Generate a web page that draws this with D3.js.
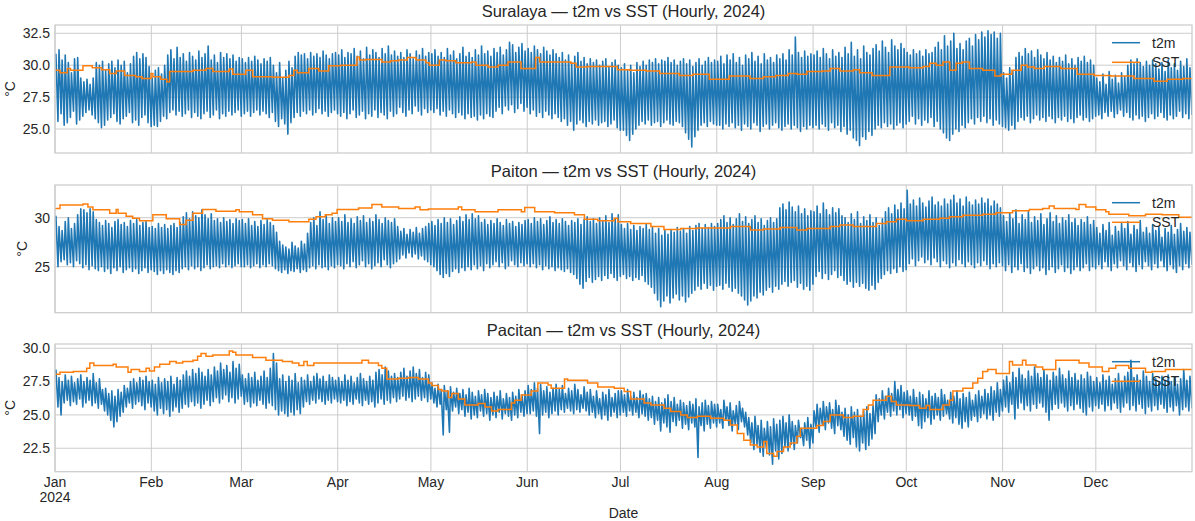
<!DOCTYPE html>
<html>
<head>
<meta charset="utf-8">
<script src="https://cdn.jsdelivr.net/npm/d3@7"></script>
<style>
  body { margin: 0; background: #ffffff; }
  svg text { font-family: "Liberation Sans", Arial, Helvetica, sans-serif; fill: #262626; }
</style>
</head>
<body>
<svg id="chart" width="1195" height="521"></svg>
<script>
// ---------------------------------------------------------------------------
// Data: daily t2m extremes (°C) for 2024 (366 days, one row per month) and
// SST step changes as [day-of-year index, °C].
// ---------------------------------------------------------------------------
const monthLabels = ["Jan", "Feb", "Mar", "Apr", "May", "Jun", "Jul", "Aug", "Sep", "Oct", "Nov", "Dec"];
const yearLabel = "2024";
const stations = ["Suralaya", "Paiton", "Pacitan"];
const seriesNames = ["t2m", "SST"];

const suralayaT2mMax = [
  30.9,31.2,30.4,30.8,30.2,29.4,30.5,30.6,29.0,28.7,28.9,28.5,29.0,30.2,30.0,30.3,29.6,30.1,30.3,29.8,30.4,30.0,30.3,29.4,30.1,30.7,31.0,30.5,30.9,30.6,29.9,
  29.0,29.6,29.8,29.3,30.0,30.8,31.2,30.5,31.4,30.6,30.9,30.3,31.0,30.7,30.4,31.1,30.6,30.9,31.5,30.4,30.8,30.2,31.0,30.6,30.9,30.5,30.8,30.3,30.6,
  30.5,30.2,30.6,30.3,30.7,30.4,30.1,30.5,30.3,30.6,30.0,29.4,30.2,29.0,29.6,30.3,29.8,30.7,31.0,30.8,30.9,30.5,31.0,30.7,30.9,30.6,31.1,30.8,30.5,30.9,31.0,
  30.8,31.2,30.6,31.0,30.9,31.3,30.7,31.1,30.5,31.4,30.8,31.2,31.0,30.6,31.3,30.9,31.5,30.8,31.1,30.7,31.0,30.6,31.2,30.9,30.5,31.1,30.8,31.3,30.7,31.0,
  30.9,31.2,30.7,31.0,30.6,31.3,30.8,31.1,30.5,30.9,31.4,30.7,31.0,30.6,31.2,30.8,31.5,30.9,31.1,30.7,31.3,31.0,31.4,30.8,31.2,31.8,31.6,31.0,31.4,31.7,31.1,
  31.3,31.0,31.5,31.2,30.9,31.4,31.1,30.8,31.2,30.9,30.6,31.0,30.4,30.8,30.2,30.7,31.0,30.3,30.6,30.1,30.5,30.2,30.4,30.0,30.3,30.5,29.9,30.2,30.4,30.0,
  29.8,30.1,29.6,30.0,29.4,30.2,29.9,30.3,30.0,30.4,30.2,30.5,30.1,30.4,30.3,30.6,30.2,30.4,30.0,30.3,30.5,30.1,30.4,29.9,30.2,30.5,30.0,30.3,30.6,30.2,30.4,
  30.3,30.7,30.1,30.8,30.4,30.9,30.2,30.6,30.0,30.8,30.5,31.0,30.3,30.7,30.1,30.9,30.4,30.6,30.2,30.8,30.5,30.9,30.4,31.2,30.8,32.2,31.0,30.6,31.1,30.7,30.9,
  30.8,31.1,30.6,31.3,30.9,30.5,31.2,30.7,31.0,30.6,31.4,30.9,31.8,30.7,31.2,30.5,31.5,31.0,30.8,31.3,31.6,31.1,31.9,31.4,31.0,32.0,31.5,31.2,31.7,31.3,
  31.0,30.8,31.2,30.9,31.1,30.7,31.2,30.9,31.0,31.4,31.8,31.2,32.3,31.5,31.9,32.5,31.3,31.7,31.2,31.9,32.1,31.5,32.4,32.0,32.6,32.2,32.7,32.4,32.6,32.1,32.5,
  29.4,29.0,29.8,29.5,30.6,31.0,30.7,31.3,30.9,31.1,30.6,31.2,30.8,30.5,31.0,30.4,30.7,30.2,30.6,30.3,30.8,30.1,30.5,30.0,30.6,30.3,30.7,30.2,30.4,30.0,
  29.0,28.7,29.3,28.5,29.5,28.9,29.2,28.6,29.4,29.1,30.0,30.4,30.1,30.5,30.2,29.9,30.3,30.0,30.4,30.1,29.7,30.2,29.5,30.4,29.8,30.1,29.6,30.3,29.9,30.5,29.8
];
const suralayaT2mMin = [
  25.6,26.2,25.3,25.5,25.9,26.4,25.4,25.7,26.0,26.3,26.5,26.1,25.8,25.5,25.1,25.3,25.7,25.9,26.2,25.6,25.4,25.8,26.0,26.3,25.5,25.7,25.3,25.9,26.1,25.5,25.2,
  25.3,25.2,25.6,26.0,25.8,26.3,26.5,26.1,26.4,26.0,26.2,26.5,25.9,26.3,26.0,25.8,26.2,26.4,25.9,26.1,26.5,25.8,26.2,26.0,26.4,26.1,26.3,26.5,26.0,
  26.2,26.4,26.0,26.3,26.5,26.1,26.4,26.2,25.9,26.3,25.6,25.2,25.8,25.4,24.6,25.5,25.9,26.3,26.0,26.4,26.2,26.5,26.1,26.3,26.6,26.2,26.4,26.0,26.3,26.5,26.2,
  26.0,26.3,25.8,26.2,26.5,25.9,26.1,26.4,25.8,26.2,26.0,26.5,25.9,26.3,26.1,25.8,26.4,26.0,26.2,26.7,26.3,26.0,26.5,26.2,26.8,26.4,26.1,26.6,26.3,26.5,
  26.3,26.6,26.1,26.4,26.0,26.5,26.2,25.9,26.3,26.1,25.8,26.2,25.9,26.0,25.7,26.1,25.8,26.2,26.0,25.9,26.4,26.7,26.2,26.8,26.5,26.9,26.3,26.6,27.0,26.4,26.7,
  26.2,26.5,26.0,26.3,25.9,26.4,26.1,25.8,26.2,25.9,25.6,25.8,25.3,25.6,24.9,25.4,25.7,25.5,25.2,25.6,25.4,25.7,25.3,25.5,25.6,25.2,25.4,25.7,25.1,24.9,
  24.9,24.5,24.1,24.6,25.0,25.3,25.6,25.4,25.7,25.3,25.5,25.6,25.2,25.5,25.7,25.4,25.3,25.6,25.5,25.2,24.7,24.2,23.6,24.4,24.9,25.3,25.5,25.2,25.6,25.4,25.3,
  25.3,25.0,25.4,25.2,25.5,25.1,25.3,24.9,25.4,25.2,25.0,25.5,25.3,24.8,25.2,25.4,25.0,25.3,25.5,25.1,24.9,25.2,25.4,25.0,25.3,25.1,24.8,25.2,25.0,25.3,25.1,
  25.3,25.0,25.4,25.2,24.9,25.5,25.1,25.3,24.8,25.2,24.6,24.9,24.3,24.1,23.7,24.4,24.2,24.8,24.5,25.0,25.3,25.1,25.5,25.2,25.4,25.0,25.3,25.5,25.1,25.4,
  25.6,26.0,25.4,25.8,25.3,25.7,25.5,25.9,25.2,25.6,25.0,24.7,24.3,24.1,24.6,25.0,24.8,25.3,25.1,25.5,25.8,25.4,25.9,25.6,26.0,25.5,25.8,25.3,25.7,25.4,25.2,
  25.1,24.9,25.3,25.0,25.6,25.9,25.7,26.0,25.5,25.8,26.1,25.7,25.9,25.6,26.0,25.8,25.5,25.9,25.7,26.0,25.6,25.8,25.5,25.9,26.1,25.7,25.9,25.6,25.8,26.0,
  26.1,25.8,26.3,26.0,26.4,25.9,26.2,26.5,26.0,26.3,25.9,25.7,26.1,25.8,26.0,25.6,25.9,26.2,25.8,26.0,26.3,25.9,25.7,26.1,25.8,26.0,26.4,25.9,26.2,25.8,26.1
];
const suralayaSst = [
  [0,29.6],[1.6,29.4],[4,29.75],[5,29.6],[9,29.95],[12,29.8],[15,29.65],[17.6,29.35],[19.7,29.55],[22.4,29.2],
  [26,29.1],[28,28.95],[30.9,29.35],[31.5,29.1],[34,28.9],[36,28.7],[36.9,29.5],[44.4,29.6],[48.6,29.75],[50.8,29.5],
  [56.1,29.7],[57.2,29.3],[61.4,29.6],[63.6,29.1],[70,29.05],[75.3,29.2],[76.9,29.6],[78,29.4],[81.7,29.75],[84.9,29.55],
  [88.1,29.95],[92,30.0],[97.2,30.65],[98,30.4],[100,30.45],[105.2,30.25],[108,30.35],[110.6,30.4],[113.4,30.6],[116.2,30.4],
  [119.4,30.2],[120.5,30.0],[123.7,30.4],[125.8,30.35],[129,30.2],[134,30.25],[135.5,30.0],[139.4,29.85],[142.6,30.0],[145.8,30.25],
  [150,29.75],[154.7,30.6],[156,30.25],[166,30.15],[167.7,29.85],[171.5,29.9],[181,29.65],[185,29.6],[190.3,29.55],[194.6,29.35],
  [201,29.2],[205.3,29.3],[210.6,28.9],[217,29.15],[223.7,28.95],[228,29.1],[232,29.2],[236,29.35],[238.8,29.3],[242,29.5],
  [247,29.55],[249.5,29.75],[252.6,29.55],[257,29.65],[259,29.4],[263,29.2],[268.7,29.85],[275,29.8],[279.4,29.9],[281.5,30.15],
  [283.6,30.0],[285.8,30.25],[288,29.6],[290,30.15],[292,30.25],[294.3,29.75],[298.6,29.6],[302.5,29.15],[304.5,29.3],[308,29.6],
  [311,30.0],[313,29.85],[315.2,29.75],[318.4,29.9],[323.7,29.75],[329,29.3],[334.5,29.2],[339.8,29.15],[347.3,28.95],[353.7,28.75],
  [358,28.9],[363,28.95]
];

const paitonT2mMax = [
  30.2,29.1,28.7,29.6,30.0,28.9,29.4,30.3,30.9,30.8,30.5,30.9,30.6,29.8,29.5,29.2,29.7,29.4,29.0,29.6,29.8,29.3,29.5,29.1,29.7,29.4,29.8,29.2,29.5,29.6,29.0,
  29.1,28.9,29.4,29.0,29.3,28.9,29.2,29.4,29.0,29.5,30.1,30.5,29.9,30.6,30.2,30.0,30.8,30.3,29.9,30.4,29.7,29.9,29.5,30.0,29.6,29.8,29.4,29.9,29.7,
  29.8,29.4,29.9,29.2,29.6,29.1,29.7,29.3,29.8,29.5,29.2,28.5,27.6,27.2,27.0,26.8,27.5,27.1,26.9,27.6,27.3,28.4,29.5,30.0,29.2,30.6,29.8,30.2,29.4,30.0,29.6,
  30.0,29.6,30.3,29.5,29.9,29.4,30.1,29.7,30.2,29.5,29.9,29.6,30.3,29.8,29.4,30.0,29.7,29.5,29.9,29.1,28.6,28.9,28.3,28.8,28.5,29.0,28.4,28.9,29.1,29.4,
  29.6,29.2,29.8,29.4,30.0,29.5,29.9,29.3,29.7,30.1,29.6,30.3,29.8,30.4,29.9,30.2,29.5,29.8,29.3,29.7,29.4,29.9,29.5,29.2,29.8,29.4,29.6,29.1,29.5,29.3,29.7,
  29.8,29.4,30.0,29.6,29.9,29.3,29.7,30.1,29.5,29.8,29.4,29.9,29.6,29.2,29.7,29.5,29.9,29.3,29.8,30.1,29.6,29.9,29.4,30.0,29.7,30.2,29.5,30.4,29.9,30.3,
  29.3,28.9,29.4,28.8,29.2,28.7,29.1,28.9,29.3,28.8,29.0,28.4,28.9,28.2,28.7,28.3,28.8,28.5,29.0,28.6,28.9,28.4,29.1,28.7,29.2,29.4,28.9,29.3,29.0,29.4,29.1,
  29.4,29.8,30.2,29.5,30.0,29.3,29.9,30.4,29.6,30.1,29.4,29.8,30.2,29.5,29.9,29.2,29.7,30.0,29.5,29.9,31.0,31.4,30.8,31.6,31.1,30.6,31.2,30.4,30.9,30.2,30.7,
  30.6,31.2,30.4,31.5,30.8,30.3,31.0,30.5,30.9,30.2,30.0,29.5,30.4,29.8,30.6,29.4,30.1,29.7,30.3,29.5,30.0,29.2,29.9,30.6,31.0,30.4,31.3,30.8,31.5,30.9,
  32.8,31.4,31.8,31.2,32.0,31.5,31.1,31.7,32.1,31.3,31.6,31.2,31.9,31.4,31.8,32.3,31.5,31.9,31.2,32.1,31.6,31.3,31.8,31.4,32.0,31.5,31.9,31.2,31.7,31.4,31.0,
  30.2,29.6,30.5,29.9,30.8,29.4,30.3,29.8,30.6,29.5,30.1,29.7,30.4,29.3,29.9,30.5,29.6,30.2,29.4,30.0,29.7,30.3,29.5,29.9,29.2,29.8,29.5,30.1,29.3,29.7,
  29.0,28.4,29.3,28.7,29.5,28.2,29.1,28.6,29.4,28.9,29.6,28.3,29.2,28.8,29.7,28.5,29.0,28.4,29.3,28.7,29.1,28.0,28.9,28.5,29.2,28.3,28.8,29.4,28.6,29.0,28.5
];
const paitonT2mMin = [
  25.0,25.5,25.7,25.2,25.4,25.0,25.6,25.3,24.9,25.2,24.7,25.1,24.8,24.6,25.0,24.5,24.8,24.3,24.9,24.6,25.0,24.4,24.7,24.9,24.5,24.8,24.3,24.6,24.9,24.4,24.7,
  24.5,24.2,24.6,24.3,24.7,24.4,24.2,24.6,24.4,24.8,25.0,24.7,25.1,24.8,25.0,24.6,24.9,25.2,24.8,25.0,25.1,24.9,25.3,25.0,25.2,24.9,25.1,25.3,25.0,
  25.0,25.2,24.9,25.1,25.3,24.9,25.2,25.0,25.3,25.1,24.8,24.6,24.4,24.7,24.3,24.6,24.5,24.8,24.4,24.7,24.5,24.9,25.1,24.8,25.2,24.9,25.0,24.7,25.1,24.9,25.2,
  25.1,24.8,25.3,25.0,25.5,24.9,25.2,25.6,25.0,25.3,24.8,25.1,25.4,25.0,25.7,25.2,24.9,25.3,25.5,25.8,26.2,25.9,26.4,26.0,26.3,25.8,26.1,25.7,25.5,25.2,
  25.0,24.6,24.2,23.9,24.3,24.0,24.5,24.8,24.4,24.9,24.6,25.0,24.7,25.2,24.8,25.1,24.6,25.3,24.9,25.2,25.5,25.0,25.4,24.8,25.1,25.6,25.2,25.0,25.4,25.1,25.3,
  25.0,25.3,24.9,25.2,24.7,25.1,24.8,25.0,24.6,24.9,24.7,24.5,24.8,24.4,24.2,23.8,23.2,22.8,23.5,23.9,23.4,23.7,24.0,23.6,24.1,23.8,24.3,23.9,23.6,24.0,
  24.2,23.8,24.0,23.6,23.9,23.7,24.1,23.5,23.2,22.9,22.3,21.6,20.9,21.5,22.0,21.3,21.8,22.2,21.6,22.0,21.4,21.9,22.3,22.6,23.0,22.7,23.3,22.8,23.1,22.6,23.0,
  23.1,22.7,23.3,22.9,22.5,22.8,22.3,22.0,21.6,21.1,21.5,22.0,21.8,22.4,22.1,22.6,22.9,22.4,23.0,22.7,23.2,23.5,23.0,23.4,23.6,22.9,23.3,22.7,23.0,22.6,23.2,
  24.0,24.5,23.8,24.3,23.7,24.2,24.6,23.9,24.1,23.6,23.2,23.5,22.9,23.4,23.0,23.3,22.8,22.6,23.1,22.7,23.4,23.8,24.2,24.6,24.3,24.8,24.4,25.0,24.5,24.7,
  25.3,25.8,25.1,25.6,26.0,25.4,25.7,25.2,25.9,25.5,25.0,25.6,25.3,24.9,25.4,25.1,25.7,25.3,25.0,25.5,25.2,24.9,25.4,25.1,25.6,25.2,24.8,25.3,25.0,25.4,25.1,
  24.6,25.2,24.4,25.0,24.7,25.3,24.5,24.9,24.3,24.8,25.1,24.6,24.9,24.2,24.7,25.0,24.4,24.8,25.2,24.5,24.9,24.3,24.7,25.0,24.6,24.9,25.3,24.6,25.0,24.8,
  25.2,24.8,25.5,25.0,24.6,25.3,24.9,25.6,25.1,24.7,25.4,25.0,24.5,25.2,24.8,25.5,25.1,24.7,25.3,24.9,25.6,25.0,24.6,25.2,24.8,24.4,25.1,24.7,25.3,24.9,25.2
];
const paitonSst = [
  [0,30.95],[1.6,31.3],[9,31.4],[10.6,31.1],[12.2,30.8],[17.6,30.45],[19.7,30.85],[20.3,30.45],[22.9,30.15],[25,29.95],
  [27.2,29.7],[31.5,30.3],[35.8,29.9],[40.1,29.3],[42.2,29.75],[44.4,30.45],[47.5,30.85],[51.8,30.65],[58.2,30.8],[59.3,30.6],
  [63.6,30.3],[66.8,29.9],[70,29.75],[75.3,29.6],[81.7,29.85],[84,30.1],[87,30.3],[89.2,30.45],[90.8,30.85],[97.7,31.0],
  [102,31.35],[105.2,31.1],[110.6,30.95],[115.9,31.1],[117.5,30.8],[120.2,30.9],[129.8,31.1],[130.9,30.8],[135.2,30.6],[142.6,30.8],
  [150.1,30.6],[151.2,31.05],[154.4,30.6],[160.8,30.5],[167.2,30.3],[170.4,29.85],[174.7,29.7],[180,29.95],[181.1,29.6],[185.3,29.4],
  [191.8,29.1],[196,28.8],[201.4,28.9],[206.7,28.95],[217.4,29.1],[223.8,28.75],[228,28.85],[233.4,29.0],[238.8,28.75],[242,28.9],
  [249.5,29.1],[252.6,29.25],[256.9,29.1],[264.4,29.4],[267.6,29.6],[270.8,29.85],[274,29.7],[279.4,29.85],[284.7,29.95],[287.9,30.1],
  [292.2,30.25],[298.6,30.35],[302.9,30.5],[308.2,30.7],[313.6,30.85],[317.9,30.95],[320,31.2],[321.6,30.95],[328.6,30.85],[329.6,31.35],
  [331.8,31.1],[335,30.8],[338.2,30.6],[339.2,30.35],[345.6,30.2],[351,30.35],[356.3,30.3],[361.7,30.05]
];

const pacitanT2mMax = [
  28.4,27.8,27.5,28.0,27.6,27.9,27.4,27.7,28.0,27.5,27.8,27.6,28.1,27.4,27.7,26.9,27.0,26.6,26.8,26.4,26.9,26.7,27.2,27.0,27.5,27.7,27.4,27.8,27.6,27.9,27.5,
  27.6,27.3,27.8,27.4,27.7,27.5,27.9,27.3,27.8,27.6,28.0,28.3,27.9,28.4,28.1,28.5,28.2,27.9,28.4,28.0,28.6,28.3,28.9,28.4,28.7,28.2,29.0,28.5,28.8,
  28.0,27.7,28.1,27.8,28.2,27.6,27.9,28.3,27.8,28.5,29.6,28.9,27.7,28.0,27.5,27.9,27.6,28.1,27.4,27.8,27.6,28.0,27.5,27.9,28.1,27.7,27.9,27.5,28.0,27.8,27.6,
  27.8,27.5,28.0,27.6,27.9,27.4,27.8,28.1,27.7,27.5,27.9,27.6,28.2,28.4,28.0,28.6,28.3,27.9,28.1,27.8,28.2,28.5,27.9,28.3,28.6,28.1,28.4,27.8,28.2,28.0,
  27.4,27.0,27.3,26.9,27.2,26.8,27.1,26.7,27.0,26.6,26.9,26.5,27.0,26.7,26.4,26.8,26.5,26.9,26.6,26.3,26.7,26.4,26.8,26.2,26.6,26.3,26.7,26.4,26.9,26.5,26.8,
  27.2,26.9,27.4,27.0,27.3,26.8,27.1,26.7,27.0,27.3,26.9,27.2,26.6,27.0,26.8,27.3,26.9,26.5,27.1,26.7,26.9,26.4,26.8,26.2,26.7,26.5,26.9,26.3,26.6,26.8,
  26.8,26.5,26.9,26.4,26.7,26.3,26.8,26.5,26.6,26.2,26.4,26.0,26.3,25.9,26.2,26.5,26.0,26.3,25.8,26.1,25.9,25.7,26.0,25.8,26.2,25.6,25.9,26.1,25.7,26.0,25.8,
  25.8,25.4,26.1,25.6,25.9,25.3,25.7,26.0,25.5,25.2,24.8,24.4,24.9,24.2,24.6,24.0,24.5,24.1,24.7,24.3,24.6,24.9,24.4,25.0,24.5,24.2,24.6,24.0,24.4,24.8,24.3,
  25.3,25.8,25.5,26.0,25.6,25.9,25.4,26.1,25.7,25.2,25.5,25.0,25.6,25.2,25.4,24.9,25.3,25.6,25.1,25.7,26.5,26.2,26.8,26.4,27.0,26.6,27.5,26.9,27.2,26.7,
  26.8,26.4,26.9,26.3,26.7,26.5,26.2,26.8,26.4,26.6,26.3,26.9,26.5,26.1,26.7,26.4,26.8,26.2,26.6,26.3,26.7,26.1,26.5,26.8,26.4,26.9,26.6,27.1,26.8,27.4,26.9,
  27.6,27.9,27.4,28.2,27.8,28.5,28.0,27.7,28.3,27.9,28.6,28.1,27.8,28.4,28.0,27.6,28.2,27.9,28.5,28.0,27.7,28.3,27.8,28.1,27.6,28.0,27.7,28.2,27.9,27.5,
  27.8,27.4,28.0,27.6,27.9,27.3,27.7,28.1,27.5,27.9,28.2,29.1,27.8,28.0,27.6,28.3,27.9,27.5,28.1,27.7,27.4,27.9,27.6,28.0,27.5,27.8,27.3,27.7,28.4,27.6,27.9
];
const pacitanT2mMin = [
  25.6,25.0,25.9,26.1,25.7,26.0,25.8,26.2,25.6,25.9,26.1,25.7,25.9,25.5,25.8,25.3,25.0,24.6,24.1,24.5,24.9,25.2,25.6,25.9,25.5,25.8,26.0,25.7,25.4,25.9,25.6,
  25.3,25.0,25.5,25.1,25.4,24.9,25.3,25.6,25.2,25.5,25.8,25.6,26.0,25.7,25.9,25.5,25.8,26.1,25.7,26.0,26.3,25.9,26.2,26.5,26.0,26.3,25.9,26.2,26.4,
  25.8,26.0,25.6,25.9,25.7,26.1,25.8,25.5,25.9,25.7,25.4,25.0,25.3,25.1,24.9,25.2,25.0,25.4,25.1,25.6,26.0,25.8,26.1,25.9,26.2,26.0,25.8,26.1,25.9,26.2,26.0,
  25.9,26.1,25.7,26.0,25.8,26.2,25.9,25.7,26.1,25.8,26.0,25.6,25.9,26.2,25.8,26.1,25.9,26.3,26.0,26.2,26.4,26.1,26.3,26.0,26.2,26.4,26.1,26.3,26.0,26.2,
  25.9,25.6,25.8,23.5,25.4,23.7,25.3,25.6,25.1,25.4,24.9,25.2,24.7,25.0,24.8,25.3,24.9,25.1,24.6,25.0,24.8,25.2,24.7,25.1,24.9,24.6,25.0,24.8,25.2,24.9,25.1,
  25.1,25.3,24.9,23.6,25.0,25.2,24.8,25.1,25.3,25.0,25.4,25.2,25.5,25.3,25.1,25.4,25.2,25.5,25.3,25.0,25.2,24.8,25.1,24.7,25.0,24.6,24.9,25.2,24.8,25.0,
  25.2,24.9,25.3,25.0,25.2,24.8,25.1,24.9,24.6,24.8,24.3,24.6,23.8,24.4,24.1,23.7,24.5,24.2,24.6,24.0,24.3,23.9,24.4,24.1,21.8,24.2,23.8,24.3,24.0,24.4,24.1,
  24.4,24.0,24.6,24.2,23.8,24.3,23.9,24.5,24.1,23.5,22.9,22.4,22.8,22.2,21.9,22.5,22.0,21.3,22.3,21.7,22.1,22.6,22.3,22.8,22.4,22.9,23.3,22.7,23.1,22.5,22.9,
  24.1,23.7,24.3,23.9,24.4,24.0,23.6,24.2,23.9,23.4,23.1,22.8,23.3,22.6,22.3,22.9,22.4,22.7,23.2,23.6,24.5,25.0,24.7,25.2,24.9,25.3,25.0,25.4,24.8,25.1,
  25.0,24.6,24.9,24.2,24.0,24.5,24.8,24.3,24.7,25.0,24.6,24.9,25.1,24.7,24.4,24.8,24.3,24.0,24.5,24.1,24.6,24.9,24.5,24.8,25.1,24.7,25.0,24.6,25.2,24.9,25.3,
  25.6,25.2,25.8,24.7,25.5,25.9,25.4,25.7,25.3,25.8,25.5,25.9,25.6,25.2,24.6,25.4,25.8,25.5,25.9,25.6,25.3,25.7,25.4,25.8,25.5,25.2,25.0,25.6,25.3,25.7,
  25.5,25.8,25.3,25.7,25.4,25.9,25.5,25.2,25.6,25.9,25.4,25.7,25.3,25.8,25.5,25.1,25.6,25.3,25.7,25.4,25.8,25.5,25.2,25.6,25.3,25.7,25.0,25.4,25.6,25.3,25.5
];
const pacitanSst = [
  [0,28.05],[1.6,28.2],[5.9,28.25],[10.2,28.5],[11.2,28.9],[12.5,28.7],[18.7,28.8],[19.7,28.6],[23.5,28.2],[24.5,28.4],
  [27.2,28.25],[29.3,28.5],[30.4,28.3],[32,28.6],[33.7,28.8],[36.9,29.0],[39,28.9],[41.1,29.0],[44.4,29.1],[45.9,29.4],
  [47,29.6],[48.6,29.4],[50.8,29.5],[56.1,29.8],[57.2,29.7],[58.2,29.5],[63.6,29.3],[67.9,29.1],[73.2,29.0],[76.4,28.9],
  [78.5,28.7],[80.1,29.0],[81.2,28.7],[83.3,28.9],[98.8,29.1],[100.9,28.9],[104.1,28.7],[105.2,28.5],[106.8,27.7],[110.6,27.75],
  [113.8,27.8],[117,27.7],[120.2,27.4],[121.3,27.2],[123.4,26.9],[124.5,26.8],[126.6,26.3],[127.7,26.6],[129.8,26.2],[131.9,25.75],
  [136.2,25.85],[138.4,25.6],[140.5,25.3],[142.6,25.4],[146.9,25.9],[148,26.1],[150.1,26.5],[153.3,26.8],[155.4,27.4],[158.7,27.25],
  [159.7,27.0],[164,27.7],[165,27.6],[171.4,27.4],[174.7,27.1],[180,27.0],[183.2,26.75],[185.3,26.2],[189.6,25.9],[191.8,25.75],
  [196,25.5],[198.2,25.25],[201.4,25.0],[203.5,24.8],[206.7,24.9],[211,24.75],[215.3,24.6],[217.4,24.25],[219.6,23.6],[221.7,23.1],
  [223.8,22.75],[226,22.6],[228.1,23.0],[229.1,22.1],[231.3,21.9],[232.4,22.25],[234.5,22.6],[236.6,22.9],[238.8,23.4],[239.9,24.0],
  [245.2,24.2],[247.3,24.5],[249.5,25.0],[253.7,24.8],[256.9,24.9],[260.1,25.4],[261.8,25.75],[263.3,26.1],[267.6,26.4],[269.2,26.0],
  [270.8,25.75],[275.1,25.7],[278.3,25.5],[280.4,25.7],[281.5,25.4],[285.8,25.75],[287.9,26.1],[289,26.8],[292.2,27.0],[295.4,27.4],
  [297,27.75],[298.6,28.25],[300.2,28.4],[302.9,28.1],[307.2,29.0],[308.2,28.75],[311.4,29.1],[312.5,28.75],[315.7,28.6],[317.9,28.4],
  [322.1,29.1],[329.6,28.9],[332.8,28.6],[337.1,28.25],[339.2,28.5],[341.4,28.7],[345.6,28.5],[351,28.2],[353.1,28.25],[357.4,28.4]
];

// Axis limits and tick values per panel
const yLimits = [[23.12, 33.15], [20.3, 33.34], [20.74, 30.32]];
const yTickValues = [[25, 27.5, 30, 32.5], [25, 30], [22.5, 25, 27.5, 30]];
const yTickFormats = [".1f", "d", ".1f"];

// ---------------------------------------------------------------------------
// Layout
// ---------------------------------------------------------------------------
const W = 1195, H = 521;
const left = 55, right = 1192;
const panelBox = [
  { top: 25,  bottom: 153,   ylabelX: 15 },
  { top: 185, bottom: 312.7, ylabelX: 27 },
  { top: 344, bottom: 471.7, ylabelX: 15 }
];
const colors = { t2m: "#1f77b4", sst: "#ff7f0e", grid: "#cccccc", text: "#262626" };

const svg = d3.select("#chart");
svg.append("rect").attr("width", W).attr("height", H).attr("fill", "#ffffff");

const t0 = Date.UTC(2024, 0, 1, 0);
const tEnd = Date.UTC(2024, 11, 31, 23);
const HOUR = 3600 * 1000;
const x = d3.scaleUtc().domain([new Date(t0), new Date(tEnd)]).range([left, right]);
const monthStarts = d3.range(12).map(m => new Date(Date.UTC(2024, m, 1)));

// Daily minimum near sunrise, maximum in the early afternoon (UTC hours)
function dailyCycle(maxArr, minArr) {
  const pts = [];
  for (let d = 0; d < maxArr.length; d++) {
    pts.push({ t: new Date(t0 + (d * 24 + 7) * HOUR), v: maxArr[d] });
    pts.push({ t: new Date(t0 + (d * 24 + 23) * HOUR), v: minArr[d] });
  }
  return pts;
}
function sstSteps(steps) {
  const pts = steps.map(([d, v]) => ({ t: new Date(t0 + d * 24 * HOUR), v }));
  pts.push({ t: new Date(tEnd), v: steps[steps.length - 1][1] });
  return pts;
}

const panels = [
  { name: stations[0], t2m: dailyCycle(suralayaT2mMax, suralayaT2mMin), sst: sstSteps(suralayaSst) },
  { name: stations[1], t2m: dailyCycle(paitonT2mMax, paitonT2mMin), sst: sstSteps(paitonSst) },
  { name: stations[2], t2m: dailyCycle(pacitanT2mMax, pacitanT2mMin), sst: sstSteps(pacitanSst) }
];

panels.forEach((p, i) => {
  const box = panelBox[i];
  const y = d3.scaleLinear().domain(yLimits[i]).range([box.bottom, box.top]);
  const g = svg.append("g");

  const clipId = "clip" + i;
  svg.append("defs").append("clipPath").attr("id", clipId)
    .append("rect").attr("x", left).attr("y", box.top)
    .attr("width", right - left).attr("height", box.bottom - box.top);

  // grid
  g.selectAll("line.hgrid").data(yTickValues[i]).join("line")
    .attr("x1", left).attr("x2", right)
    .attr("y1", d => y(d)).attr("y2", d => y(d))
    .attr("stroke", colors.grid).attr("stroke-width", 1);
  g.selectAll("line.vgrid").data(monthStarts).join("line")
    .attr("x1", d => x(d)).attr("x2", d => x(d))
    .attr("y1", box.top).attr("y2", box.bottom)
    .attr("stroke", colors.grid).attr("stroke-width", 1);

  // series
  const line = d3.line().x(d => x(d.t)).y(d => y(d.v));
  const plot = g.append("g").attr("clip-path", `url(#${clipId})`);
  plot.append("path").datum(p.t2m)
    .attr("d", line).attr("fill", "none")
    .attr("stroke", colors.t2m).attr("stroke-width", 1.6).attr("stroke-linejoin", "round");
  plot.append("path").datum(p.sst)
    .attr("d", line.curve(d3.curveStepAfter)).attr("fill", "none")
    .attr("stroke", colors.sst).attr("stroke-width", 1.5);

  // frame
  g.append("rect").attr("x", left).attr("y", box.top)
    .attr("width", right - left).attr("height", box.bottom - box.top)
    .attr("fill", "none").attr("stroke", colors.grid).attr("stroke-width", 1.25);

  // y tick labels
  const fmt = d3.format(yTickFormats[i]);
  g.selectAll("text.ytick").data(yTickValues[i]).join("text")
    .attr("x", left - 5).attr("y", d => y(d)).attr("dy", "0.35em")
    .attr("text-anchor", "end").attr("font-size", 14)
    .text(d => fmt(d));

  // y label
  g.append("text")
    .attr("transform", `translate(${box.ylabelX},${(box.top + box.bottom) / 2}) rotate(-90)`)
    .attr("text-anchor", "middle").attr("font-size", 14)
    .text("°C");

  // title
  g.append("text")
    .attr("x", (left + right) / 2).attr("y", box.top - 8)
    .attr("text-anchor", "middle").attr("font-size", 16.5)
    .text(`${p.name} — t2m vs SST (Hourly, 2024)`);

  // legend
  const lg = g.append("g");
  [[seriesNames[0], colors.t2m], [seriesNames[1], colors.sst]].forEach(([label, c], k) => {
    const ly = box.top + 17.7 + k * 19.6;
    lg.append("line").attr("x1", right - 80).attr("x2", right - 52)
      .attr("y1", ly).attr("y2", ly).attr("stroke", c).attr("stroke-width", 1.5);
    lg.append("text").attr("x", right - 40).attr("y", ly).attr("dy", "0.35em")
      .attr("font-size", 14).text(label);
  });
});

// x axis labels under the bottom panel
const xlab = svg.append("g");
xlab.selectAll("text.month").data(monthStarts).join("text")
  .attr("x", d => x(d)).attr("y", 486.7)
  .attr("text-anchor", "middle").attr("font-size", 14)
  .text((d, i) => monthLabels[i]);
xlab.append("text").attr("x", x(monthStarts[0])).attr("y", 501.7)
  .attr("text-anchor", "middle").attr("font-size", 14).text(yearLabel);
xlab.append("text").attr("x", (left + right) / 2).attr("y", 517.5)
  .attr("text-anchor", "middle").attr("font-size", 14).text("Date");
</script>
</body>
</html>
